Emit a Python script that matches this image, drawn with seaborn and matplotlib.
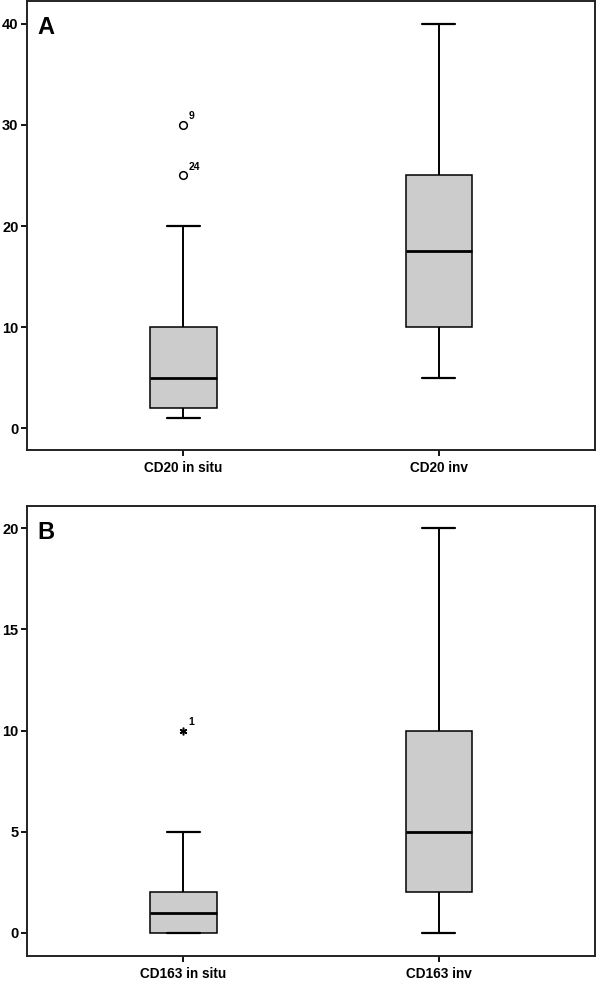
import numpy as np
import pandas as pd
import seaborn as sns
import matplotlib.pyplot as plt

# Values per patient (case order, case number = position + 1)
cd20_in_situ = [5, 2, 10, 1, 3, 20, 5, 2, 30, 10, 1, 4, 5, 15, 2, 8, 10, 5, 1, 20, 3, 10, 2, 25, 5]
cd20_inv = [20, 10, 25, 5, 15, 40, 10, 12, 30, 25, 5, 15, 20, 35, 10, 25, 8, 20, 5, 40, 15, 25, 10, 30]
cd163_in_situ = [10, 0, 1, 2, 0, 3, 1, 0, 2, 5, 0, 1, 2, 4, 0, 1, 2, 0, 3, 1, 2, 0, 5, 1, 2]
cd163_inv = [5, 2, 10, 0, 8, 20, 3, 1, 15, 5, 2, 12, 10, 0, 4, 6, 15, 2, 10, 1, 8, 20, 3, 5, 15]

panel_letters = ['A', 'B']
panel_groups = [['CD20 in situ', 'CD20 inv'], ['CD163 in situ', 'CD163 inv']]
panel_data = [[cd20_in_situ, cd20_inv], [cd163_in_situ, cd163_inv]]
panel_yticks = [[0, 10, 20, 30, 40], [0, 5, 10, 15, 20]]
panel_ylims = [(-2.17, 42.27), (-1.14, 21.09)]

sns.set_style('white')
plt.rcParams['font.family'] = ['Liberation Sans', 'DejaVu Sans']
plt.rcParams['font.weight'] = 'bold'
plt.rcParams['text.color'] = 'black'

fig = plt.figure(figsize=(5.97, 9.83), dpi=100)
# axes positions (figure fraction) to match reference layout
ax_pos = [[0.045, 0.5422, 0.952, 0.4568], [0.045, 0.0275, 0.952, 0.4577]]

for i in range(2):
    ax = fig.add_axes(ax_pos[i])
    groups = panel_groups[i]
    rows = []
    for g, vals in zip(groups, panel_data[i]):
        for v in vals:
            rows.append({'group': g, 'value': v})
    df = pd.DataFrame(rows)

    sns.boxplot(data=df, x='group', y='value', order=groups, ax=ax,
                color='#cccccc', saturation=1, linecolor='black', width=0.26,
                showfliers=False, whis=1.5,
                boxprops={'linewidth': 1.1},
                medianprops={'linewidth': 2.0, 'color': 'black'},
                whiskerprops={'linewidth': 1.4},
                capprops={'linewidth': 1.6})

    # SPSS style outliers: circle (>1.5 IQR), star (>3 IQR), with case numbers
    for pos, vals in enumerate(panel_data[i]):
        arr = np.array(vals, dtype=float)
        q1, q3 = np.percentile(arr, [25, 75])
        iqr = q3 - q1
        for case, v in enumerate(arr, start=1):
            if v > q3 + 3 * iqr or v < q1 - 3 * iqr:
                ax.plot(pos, v, marker=(6, 2, 0), ms=5.5, color='black', mew=1.1)
            elif v > q3 + 1.5 * iqr or v < q1 - 1.5 * iqr:
                ax.plot(pos, v, marker='o', ms=5.5, mfc='white', mec='black', mew=1.1)
            else:
                continue
            ax.annotate(str(case), (pos, v), xytext=(3.5, 2.5), textcoords='offset points',
                        fontsize=7.5, fontweight='bold', ha='left', va='bottom', color='black')

    ax.set_xlim(-0.613, 1.613)
    ax.set_ylim(*panel_ylims[i])
    ax.set_yticks(panel_yticks[i])
    ax.set_xlabel('')
    ax.set_ylabel('')
    for s in ax.spines.values():
        s.set_visible(True)
        s.set_linewidth(1.4)
        s.set_color('#222222')
    ax.tick_params(axis='both', direction='out', length=4, width=1.3, colors='black',
                   labelcolor='black', left=True, bottom=True)
    ax.tick_params(axis='y', labelsize=10.5, pad=2)
    ax.tick_params(axis='x', labelsize=9.8, pad=4)
    for lab in ax.get_xticklabels() + ax.get_yticklabels():
        lab.set_fontweight('bold')

    ax.text(0.019, 0.967, panel_letters[i], transform=ax.transAxes,
            fontsize=17, fontweight='bold', ha='left', va='top', color='black')

fig.savefig('out.png', dpi=100)
